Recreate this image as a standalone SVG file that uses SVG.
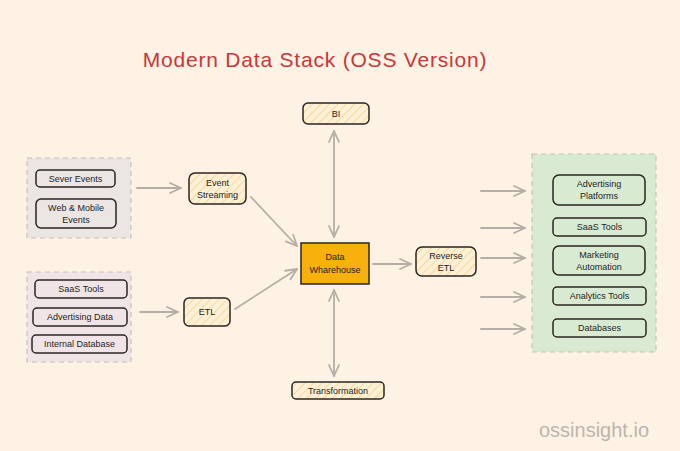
<svg xmlns="http://www.w3.org/2000/svg" width="680" height="451" viewBox="0 0 680 451">
<defs>
<pattern id="hatch" width="6" height="6" patternUnits="userSpaceOnUse" patternTransform="rotate(45)">
<rect width="6" height="6" fill="#fdf0d6"/>
<line x1="0" y1="0" x2="0" y2="6" stroke="#f3cf7a" stroke-width="1.3"/>
</pattern>
<marker id="ah" markerWidth="14" markerHeight="12" refX="12" refY="6" orient="auto-start-reverse" markerUnits="userSpaceOnUse">
<path d="M1,1 L12,6 L1,11" fill="none" stroke="#b5aea6" stroke-width="1.8" stroke-linecap="round" stroke-linejoin="round"/>
</marker>
</defs>
<style>
text{font-family:"Liberation Sans",Arial,sans-serif;fill:#1e1e1e;text-anchor:middle;dominant-baseline:central}
.n{font-size:9px}
.box{fill:none;stroke:#2a2522;stroke-width:1.5}
.hb{fill:url(#hatch);stroke:#2a2522;stroke-width:1.5}
.grp{stroke:#c8c2bc;stroke-width:1.2;stroke-dasharray:5 4}
.c{stroke:#b5aea6;stroke-width:1.8;fill:none;stroke-linecap:round}
</style>
<rect width="680" height="451" fill="#fdf2e4"/>
<text x="315" y="59" style="font-size:21px;letter-spacing:0.8px;fill:#c8373a">Modern Data Stack (OSS Version)</text>

<g id="group-events">
<rect class="grp" x="27" y="158" width="104" height="80" fill="#ebe5e3"/>
</g>
<g id="group-sources">
<rect class="grp" x="27" y="272" width="104" height="90" fill="#f1e4e6"/>
</g>
<g id="group-targets">
<rect class="grp" x="532" y="154" width="124" height="198" fill="#d9ead3"/>
</g>

<g id="connectors">
<line class="c" x1="137" y1="188" x2="181" y2="188" marker-end="url(#ah)"/>
<line class="c" x1="140" y1="312" x2="178" y2="312" marker-end="url(#ah)"/>
<line class="c" x1="251" y1="197" x2="297" y2="246" marker-end="url(#ah)"/>
<line class="c" x1="235" y1="309" x2="297" y2="269" marker-end="url(#ah)"/>
<line class="c" x1="334" y1="131" x2="334" y2="237" marker-start="url(#ah)" marker-end="url(#ah)"/>
<line class="c" x1="334" y1="290" x2="334" y2="376" marker-start="url(#ah)" marker-end="url(#ah)"/>
<line class="c" x1="373" y1="264" x2="411" y2="264" marker-end="url(#ah)"/>
<line class="c" x1="481" y1="191" x2="525" y2="191" marker-end="url(#ah)"/>
<line class="c" x1="481" y1="228" x2="525" y2="228" marker-end="url(#ah)"/>
<line class="c" x1="481" y1="258" x2="525" y2="258" marker-end="url(#ah)"/>
<line class="c" x1="481" y1="297" x2="525" y2="297" marker-end="url(#ah)"/>
<line class="c" x1="481" y1="329" x2="525" y2="329" marker-end="url(#ah)"/>
</g>

<g id="sever-events"><rect class="box" x="36" y="170" width="79" height="17" rx="4"/><text class="n" x="75.5" y="178.5">Sever Events</text></g>
<g id="web-mobile-events"><rect class="box" x="36" y="199" width="80" height="29" rx="5"/><text class="n" x="76" y="208">Web &amp; Mobile</text><text class="n" x="76" y="220">Events</text></g>
<g id="saas-tools-src"><rect class="box" x="35" y="280" width="92" height="18" rx="4"/><text class="n" x="81" y="289">SaaS Tools</text></g>
<g id="advertising-data"><rect class="box" x="33" y="308" width="94" height="18" rx="4"/><text class="n" x="80" y="317">Advertising Data</text></g>
<g id="internal-database"><rect class="box" x="32" y="335" width="95" height="18" rx="4"/><text class="n" x="79.5" y="344">Internal Database</text></g>

<g id="event-streaming"><rect class="hb" x="189" y="173" width="57" height="31" rx="6"/><text class="n" x="217.5" y="183">Event</text><text class="n" x="217.5" y="195">Streaming</text></g>
<g id="etl"><rect class="hb" x="184" y="298" width="46" height="28" rx="5"/><text class="n" x="207" y="312">ETL</text></g>
<g id="bi"><rect class="hb" x="303" y="103" width="66" height="21" rx="5"/><text class="n" x="336" y="113.5">BI</text></g>
<g id="data-warehouse"><rect x="301" y="243" width="68" height="41" fill="#f8b00c" stroke="#2a2522" stroke-width="1.5"/><text class="n" x="335" y="257">Data</text><text class="n" x="335" y="270">Wharehouse</text></g>
<g id="reverse-etl"><rect class="hb" x="416" y="247" width="60" height="29" rx="6"/><text class="n" x="446" y="256">Reverse</text><text class="n" x="446" y="268">ETL</text></g>
<g id="transformation"><rect class="hb" x="292" y="382" width="92" height="17" rx="4"/><text class="n" x="338" y="390.5">Transformation</text></g>

<g id="advertising-platforms"><rect class="box" x="553" y="175" width="92" height="30" rx="6"/><text class="n" x="599" y="184">Advertising</text><text class="n" x="599" y="196">Platforms</text></g>
<g id="saas-tools-tgt"><rect class="box" x="553" y="218" width="93" height="18" rx="4"/><text class="n" x="599.5" y="227">SaaS Tools</text></g>
<g id="marketing-automation"><rect class="box" x="553" y="246" width="92" height="29" rx="6"/><text class="n" x="599" y="255">Marketing</text><text class="n" x="599" y="267">Automation</text></g>
<g id="analytics-tools"><rect class="box" x="553" y="287" width="93" height="18" rx="4"/><text class="n" x="599.5" y="296">Analytics Tools</text></g>
<g id="databases"><rect class="box" x="553" y="319" width="93" height="18" rx="4"/><text class="n" x="599.5" y="328">Databases</text></g>

<text x="594" y="430" style="font-size:20px;fill:#bdb5ad">ossinsight.io</text>
</svg>
